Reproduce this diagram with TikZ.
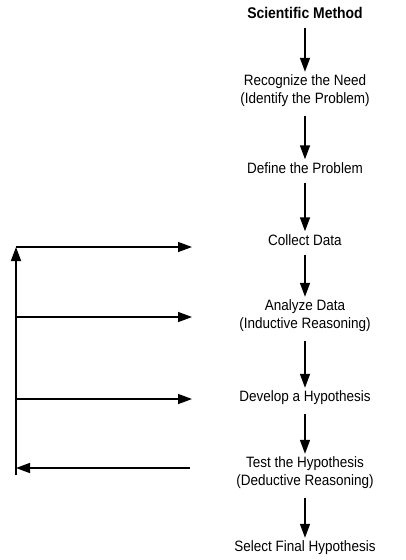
\documentclass[tikz,border=0pt]{standalone}
\usepackage{fontspec}
\setmainfont{Liberation Sans}[FakeStretch=0.9]
\usetikzlibrary{arrows.meta}

\tikzset{
    stage/.style={font=\fontsize{15}{18}\selectfont, align=center, inner sep=0pt},
    flow/.style={line width=1.5pt, -{Triangle[width=10pt,length=14pt]}},
}

\begin{document}
\begin{tikzpicture}[x=1pt, y=-1pt]
        \useasboundingbox (0, 0) rectangle (406, 560);

        % the steps of the method
        \node[stage, font=\fontsize{15.5}{18}\selectfont\bfseries] (sci) at (305, 13) {Scientific Method};
        \node[stage] (need) at (305, 91) {Recognize the Need\\(Identify the Problem)};
        \node[stage] (define) at (305, 168) {Define the Problem};
        \node[stage] (collect) at (305, 240) {Collect Data};
        \node[stage] (analyze) at (305, 316) {Analyze Data\\(Inductive Reasoning)};
        \node[stage] (develop) at (305, 398) {Develop a Hypothesis};
        \node[stage] (test) at (305, 473) {Test the Hypothesis\\(Deductive Reasoning)};
        \node[stage] (select) at (305, 548) {Select Final Hypothesis};

        \foreach \a/\b in {sci/need, need/define, define/collect, collect/analyze,
                           analyze/develop, develop/test, test/select} {
            \draw[flow, shorten <=9pt, shorten >=3pt] (\a) -- (\b);
        }

        % feedback loop on the left
        \coordinate (loopbot) at (16, 475);
        \coordinate (looptop) at (16, 247);
        \coordinate (back) at (16, 468);
        \coordinate (out) at (190, 468);
        \foreach \y/\n in {247/1, 317/2, 399/3} {
            \coordinate (in\n) at (192, \y);
            \coordinate (from\n) at (16, \y);
            \draw[flow] (from\n) -- (in\n);
        }
        \draw[flow] (loopbot) -- (looptop);
        \draw[flow] (out) -- (back);
    \end{tikzpicture}
\end{document}
